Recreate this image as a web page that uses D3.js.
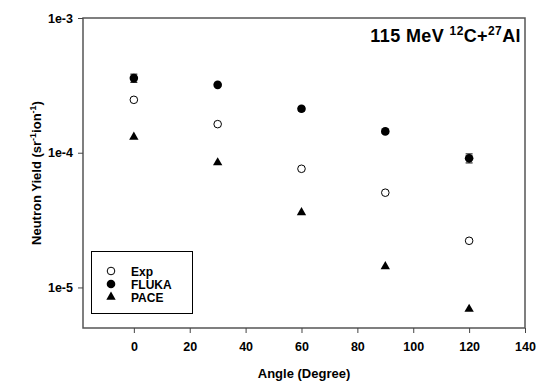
<!DOCTYPE html>
<html>
<head>
<meta charset="utf-8">
<script src="https://cdn.jsdelivr.net/npm/d3@7"></script>
<style>
  body { margin: 0; background: #fff; }
  svg text { font-family: "Liberation Sans", Arial, sans-serif; font-weight: bold; fill: #000; }
</style>
</head>
<body>
<svg id="chart" width="537" height="385"></svg>
<script>
const angles = [0, 30, 60, 90, 120];
const expYield = [2.47e-4, 1.63e-4, 7.6e-5, 5.05e-5, 2.22e-5];
const flukaYield = [3.58e-4, 3.19e-4, 2.12e-4, 1.44e-4, 9.1e-5];
const flukaErr = [0.25e-4, 0.08e-4, 0.08e-4, 0.05e-4, 0.07e-4];
const paceYield = [1.31e-4, 8.45e-5, 3.6e-5, 1.43e-5, 6.9e-6];
const xTicks = [0, 20, 40, 60, 80, 100, 120, 140];
const yTicks = [1e-5, 1e-4, 1e-3];
const yTickLabels = ["1e-5", "1e-4", "1e-3"];
const legendNames = ["Exp", "FLUKA", "PACE"];

const width = 537, height = 385;
const margin = {top: 18, right: 12, bottom: 57, left: 83};
const svg = d3.select("#chart");

const x = d3.scaleLinear()
    .domain([-18.2, 140])
    .range([margin.left, width - margin.right]);
const y = d3.scaleLog()
    .domain([5e-6, 1e-3])
    .range([height - margin.bottom, margin.top]);

// frame
svg.append("rect")
    .attr("x", margin.left)
    .attr("y", margin.top)
    .attr("width", width - margin.left - margin.right)
    .attr("height", height - margin.top - margin.bottom)
    .attr("fill", "none")
    .attr("stroke", "#555")
    .attr("stroke-width", 1.5);

const xAxis = svg.append("g")
    .attr("transform", `translate(0,${height - margin.bottom})`)
    .call(d3.axisBottom(x).tickValues(xTicks).tickSize(5).tickPadding(9));
const yAxis = svg.append("g")
    .attr("transform", `translate(${margin.left},0)`)
    .call(d3.axisLeft(y).tickValues(yTicks).tickSize(5).tickPadding(5)
        .tickFormat((d, i) => yTickLabels[i]));
[xAxis, yAxis].forEach(g => {
    g.select(".domain").remove();
    g.selectAll(".tick line").attr("stroke", "#444");
    g.selectAll(".tick text").style("font-size", "12.5px").attr("fill", "#000");
});

// axis titles
svg.append("text")
    .attr("x", (margin.left + width - margin.right) / 2)
    .attr("y", 378)
    .attr("text-anchor", "middle")
    .style("font-size", "13px")
    .text("Angle (Degree)");

const yTitle = svg.append("text")
    .attr("transform", `translate(41,${(margin.top + height - margin.bottom) / 2}) rotate(-90)`)
    .attr("text-anchor", "middle")
    .style("font-size", "13px");
yTitle.append("tspan").text("Neutron Yield (sr");
yTitle.append("tspan").attr("dy", -5).style("font-size", "9px").text("-1");
yTitle.append("tspan").attr("dy", 5).text("ion");
yTitle.append("tspan").attr("dy", -5).style("font-size", "9px").text("-1");
yTitle.append("tspan").attr("dy", 5).text(")");

// title
const title = svg.append("text")
    .attr("x", 521)
    .attr("y", 42)
    .attr("text-anchor", "end")
    .style("font-size", "18px")
    .style("letter-spacing", "0.4px");
title.append("tspan").text("115 MeV ");
title.append("tspan").attr("dy", -7).style("font-size", "12px").text("12");
title.append("tspan").attr("dy", 7).text("C+");
title.append("tspan").attr("dy", -7).style("font-size", "12px").text("27");
title.append("tspan").attr("dy", 7).text("Al");

const tri = d3.symbol().type(d3.symbolTriangle).size(38);

// FLUKA error bars
const errG = svg.append("g").attr("stroke", "#000").attr("stroke-width", 1);
angles.forEach((a, i) => {
    const y0 = y(flukaYield[i] - flukaErr[i]), y1 = y(flukaYield[i] + flukaErr[i]);
    errG.append("line").attr("x1", x(a)).attr("x2", x(a)).attr("y1", y0).attr("y2", y1);
    errG.append("line").attr("x1", x(a) - 3.5).attr("x2", x(a) + 3.5).attr("y1", y0).attr("y2", y0);
    errG.append("line").attr("x1", x(a) - 3.5).attr("x2", x(a) + 3.5).attr("y1", y1).attr("y2", y1);
});

svg.append("g").selectAll("circle")
    .data(angles.map((a, i) => [a, flukaYield[i]]))
    .join("circle")
    .attr("cx", d => x(d[0]))
    .attr("cy", d => y(d[1]))
    .attr("r", 4.3)
    .attr("fill", "#000");

svg.append("g").selectAll("circle")
    .data(angles.map((a, i) => [a, expYield[i]]))
    .join("circle")
    .attr("cx", d => x(d[0]))
    .attr("cy", d => y(d[1]))
    .attr("r", 3.8)
    .attr("fill", "#fff")
    .attr("stroke", "#000")
    .attr("stroke-width", 1);

svg.append("g").selectAll("path")
    .data(angles.map((a, i) => [a, paceYield[i]]))
    .join("path")
    .attr("transform", d => `translate(${x(d[0])},${y(d[1])})`)
    .attr("d", tri)
    .attr("fill", "#000");

// legend
const legend = svg.append("g");
legend.append("rect")
    .attr("x", 91.5).attr("y", 251.5)
    .attr("width", 101).attr("height", 62)
    .attr("fill", "#fff").attr("stroke", "#000").attr("stroke-width", 1);
legendNames.forEach((name, i) => {
    const ly = 271 + i * 13;
    if (i === 0) legend.append("circle").attr("cx", 111).attr("cy", ly).attr("r", 3.8)
        .attr("fill", "#fff").attr("stroke", "#000");
    if (i === 1) legend.append("circle").attr("cx", 111).attr("cy", ly).attr("r", 4.3).attr("fill", "#000");
    if (i === 2) legend.append("path").attr("transform", `translate(111,${ly})`).attr("d", tri).attr("fill", "#000");
    legend.append("text")
        .attr("x", 131).attr("y", ly + 4.5)
        .style("font-size", "12px")
        .text(name);
});
</script>
</body>
</html>
